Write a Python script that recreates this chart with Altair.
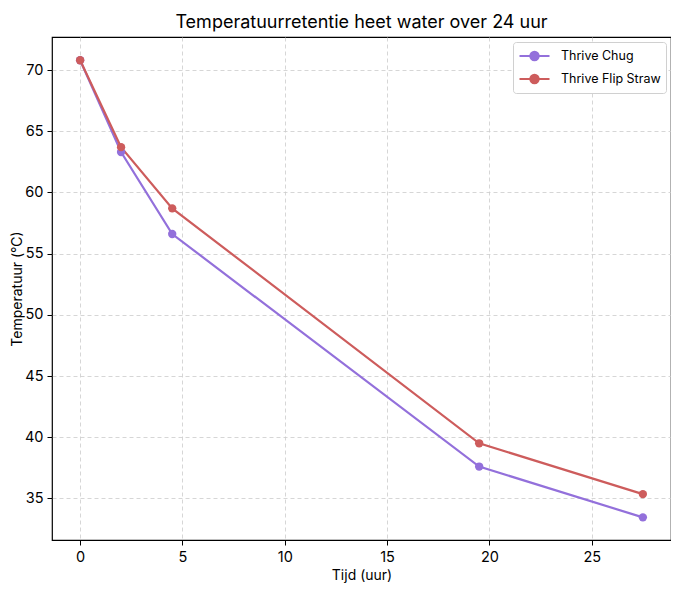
import altair as alt
import pandas as pd

hours = [0, 2, 4.5, 19.5, 27.5]
chug = [70.8, 63.3, 56.6, 37.6, 33.45]
flip = [70.8, 63.7, 58.7, 39.5, 35.35]
series_names = ["Thrive Chug", "Thrive Flip Straw"]
colors = ["#9370DB", "#CD5C5C"]

rows = []
for name, vals in zip(series_names, [chug, flip]):
    for h, v in zip(hours, vals):
        rows.append({"Tijd": h, "Temp": v, "Serie": name})
df = pd.DataFrame(rows)

FONT = "Inter"
# legend glyph: line with a dot in its middle (unit = 7.5 px)
sym = "M -1 0 L 3 0 M 1.55 0 A 0.55 0.55 0 1 1 0.45 0 A 0.55 0.55 0 1 1 1.55 0 Z"

chart = alt.Chart(df).mark_line(
    strokeWidth=2.2,
    point=alt.OverlayMarkDef(filled=True, size=70, opacity=1),
).encode(
    x=alt.X("Tijd:Q", title="Tijd (uur)",
            scale=alt.Scale(domain=[-1.375, 28.875], nice=False, zero=False),
            axis=alt.Axis(values=[0, 5, 10, 15, 20, 25])),
    y=alt.Y("Temp:Q", title="Temperatuur (°C)",
            scale=alt.Scale(domain=[31.6, 72.7], nice=False, zero=False),
            axis=alt.Axis(values=[35, 40, 45, 50, 55, 60, 65, 70])),
    color=alt.Color("Serie:N", sort=series_names,
                    scale=alt.Scale(domain=series_names, range=colors),
                    legend=alt.Legend(title=None, orient="top-right",
                                      symbolType=sym, symbolSize=225,
                                      symbolStrokeWidth=2.2,
                                      labelFontSize=12.5, labelFont=FONT,
                                      labelOffset=25,
                                      strokeColor="#d0d0d0", fillColor="white",
                                      padding=5, cornerRadius=3,
                                      offset=5, rowPadding=5)),
).properties(
    width=663,
    height=577,
    autosize=alt.AutoSizeParams(type="fit", contains="padding"),
    title=alt.TitleParams("Temperatuurretentie heet water over 24 uur",
                          fontSize=18, font=FONT, fontWeight="normal",
                          anchor="middle", offset=5),
    padding={"left": 2, "top": 6, "right": 0, "bottom": 2},
).configure_view(
    stroke="black", strokeWidth=1.2
).configure_axis(
    grid=True, gridColor="#cccccc", gridDash=[4, 3], gridWidth=0.8,
    domain=False, tickColor="black", tickSize=5, tickWidth=1,
    labelFont=FONT, labelFontSize=14.5, labelColor="black",
    titleFont=FONT, titleFontSize=14, titleFontWeight="normal", titleColor="black",
).configure_axisX(titlePadding=5, labelPadding=5
).configure_axisY(titlePadding=0, labelPadding=4)

chart.save("out.html", embed_options={"renderer": "svg", "actions": False})
